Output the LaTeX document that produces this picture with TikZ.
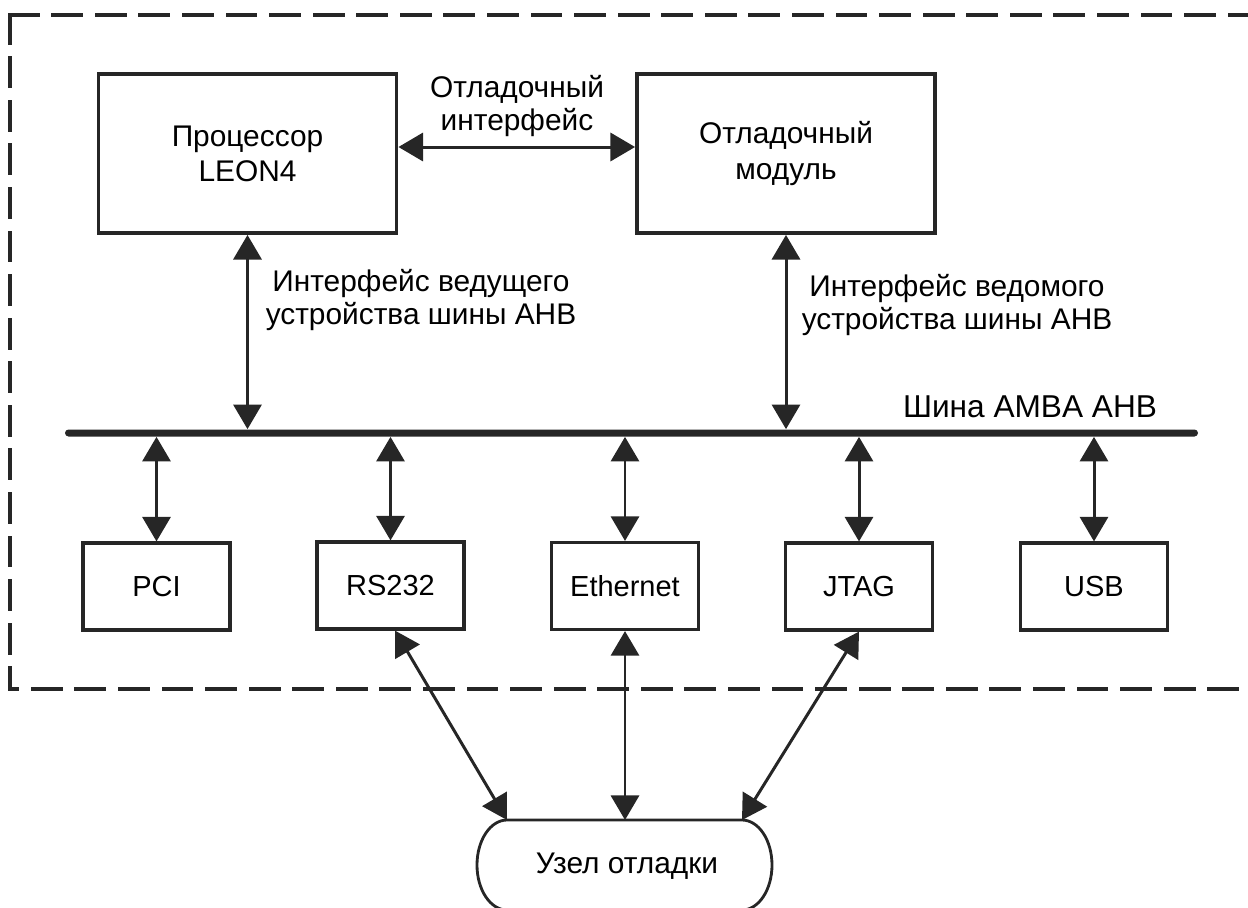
\documentclass[tikz,border=0pt]{standalone}
\usepackage{fontspec}
\setmainfont{Liberation Sans}
\usetikzlibrary{arrows.meta}
\def\PX{0.02cm}
\definecolor{ink}{gray}{0.15}
\begin{document}
\begin{tikzpicture}[x=0.02cm, y=-0.02cm,
  every node/.style={font=\fontsize{17pt}{18.5pt}\selectfont, inner sep=0pt, text=black},
  bigbox/.style={draw=ink, line width=2.2pt, minimum width=298*\PX, minimum height=159*\PX, align=center, font=\fontsize{17pt}{20pt}\selectfont},
  smallbox/.style={draw=ink, line width=1.8pt, minimum width=147*\PX, minimum height=87*\PX, font=\fontsize{16.5pt}{18pt}\selectfont},
  arr/.style={draw=ink, line width=1.7pt, {Triangle[length=14pt,width=16pt]}-{Triangle[length=14pt,width=16pt]}},
  lbl/.style={align=center},
  busline/.style={fill=ink, minimum width=1133*\PX, minimum height=7*\PX, rounded corners=3.5*\PX},
  border/.style={draw=ink, line width=2.6pt, line cap=rect, dash pattern=on 15.5pt off 9.3pt},
  uzelshape/.style={draw=ink, line width=1.6pt}]
\useasboundingbox (0,0) rectangle (1248,907);

% dashed enclosure (open on the right)
\draw[border] (10,15) -- (1275,15);
\draw[border] (10,15) -- (10,689) -- (1275,689);

% top blocks
\node[bigbox] (leon) at (247.5,153.5) {Процессор\\LEON4};
\node[bigbox] (dbg) at (786,153.5) {Отладочный\\модуль};
\node[lbl] (dbgif) at (517,106) {Отладочный\\интерфейс};
\draw[arr] ([yshift=0.13cm]leon.east) -- ([yshift=0.13cm]dbg.west);

% bus
\node[busline] (bus) at (631.5,433) {};
\node[anchor=base, font=\fontsize{18pt}{20pt}\selectfont] (buslbl) at (1030,417) {Шина AMBA AHB};

\draw[arr] (leon.south) -- (leon.south |- bus.north);
\draw[arr] (dbg.south) -- (dbg.south |- bus.north);
\node[lbl] (master) at (421,300) {Интерфейс ведущего\\устройства шины AHB};
\node[lbl] (slave) at (957,305) {Интерфейс ведомого\\устройства шины AHB};

% peripherals
\node[smallbox] (pci) at (156.5,586.5) {PCI};
\node[smallbox] (rs) at (390.5,585.5) {RS232};
\node[smallbox] (eth) at (625,586) {Ethernet};
\node[smallbox] (jtag) at (859,586.5) {JTAG};
\node[smallbox] (usb) at (1094,586.5) {USB};

\foreach \p in {pci,rs,eth,jtag,usb}
  \draw[arr] (bus.south -| \p.north) -- (\p.north);

% debug node
\coordinate (uzelTL) at (507,820);
\coordinate (uzelT) at (625,820);
\coordinate (uzelTR) at (742,820);
\draw[uzelshape] (uzelTL) -- (uzelTR)
  arc[start angle=90, end angle=-90, x radius=30*\PX, y radius=45*\PX]
  -- ++(-235,0)
  arc[start angle=270, end angle=90, x radius=30*\PX, y radius=45*\PX] -- cycle;
\node[anchor=base] (uzel) at (627,873) {Узел отладки};

\draw[arr] ([xshift=0.09cm]rs.south) -- (uzelTL);
\draw[arr] (eth.south) -- (uzelT);
\draw[arr] (jtag.south) -- (uzelTR);
\end{tikzpicture}
\end{document}
